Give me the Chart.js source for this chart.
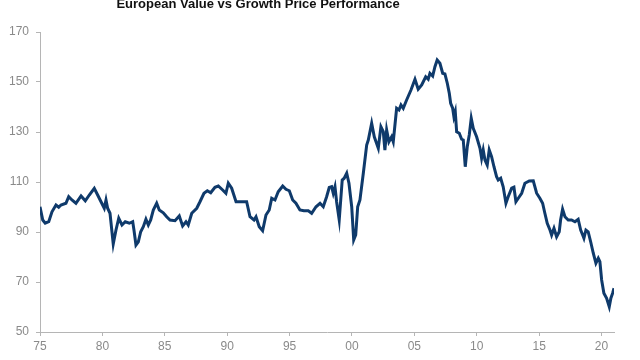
<!DOCTYPE html>
<html>
<head>
<meta charset="utf-8">
<script src="https://cdn.jsdelivr.net/npm/chart.js@4/dist/chart.umd.min.js"></script>
<style>
html,body{margin:0;padding:0;background:#fff;overflow:hidden;}
#wrap{width:640px;height:360px;position:relative;}
</style>
</head>
<body>
<div id="wrap"><canvas id="c" width="640" height="360"></canvas></div>
<script>
const TITLE = 'European Value vs Growth Price Performance';
const yTickValues = [50, 70, 90, 110, 130, 150, 170];
const xTickYears = [1975, 1980, 1985, 1990, 1995, 2000, 2005, 2010, 2015, 2020];
const xTickLabels = ['75', '80', '85', '90', '95', '00', '05', '10', '15', '20'];

const years = [
1975.00,1975.22,1975.42,1975.70,1975.96,1976.28,1976.50,1976.68,1977.08,1977.30,1977.56,1977.88,
1978.29,1978.63,1978.95,1979.35,1979.62,1979.89,1980.15,1980.29,1980.42,1980.61,1980.87,1981.09,
1981.31,1981.57,1981.83,1982.16,1982.43,1982.53,1982.69,1982.88,1983.07,1983.28,1983.49,1983.68,
1983.87,1984.08,1984.35,1984.56,1984.88,1985.15,1985.42,1985.82,1986.16,1986.43,1986.70,1986.88,
1987.16,1987.56,1987.82,1988.14,1988.41,1988.68,1989.02,1989.29,1989.64,1989.90,1990.09,1990.36,
1990.71,1991.16,1991.56,1991.83,1992.15,1992.31,1992.57,1992.84,1993.11,1993.37,1993.57,1993.83,
1994.09,1994.45,1994.71,1994.98,1995.25,1995.51,1995.83,1996.15,1996.50,1996.77,1997.12,1997.44,
1997.70,1997.97,1998.18,1998.37,1998.50,1998.64,1998.77,1998.98,1999.22,1999.38,1999.58,1999.76,
1999.98,2000.14,2000.30,2000.46,2000.64,2000.91,2001.18,2001.31,2001.58,2001.79,2002.11,2002.32,
2002.51,2002.64,2002.78,2002.96,2003.18,2003.31,2003.58,2003.77,2003.93,2004.11,2004.38,2004.73,
2005.05,2005.31,2005.59,2005.91,2006.11,2006.25,2006.47,2006.65,2006.83,2007.05,2007.27,2007.45,
2007.64,2007.80,2007.91,2008.07,2008.17,2008.28,2008.39,2008.60,2008.79,2008.92,2009.08,2009.24,
2009.40,2009.56,2009.72,2009.99,2010.26,2010.39,2010.52,2010.66,2010.84,2011.00,2011.19,2011.38,
2011.59,2011.72,2011.92,2012.12,2012.34,2012.52,2012.80,2012.98,2013.14,2013.33,2013.60,2013.86,
2014.21,2014.53,2014.80,2015.06,2015.28,2015.46,2015.65,2015.87,2016.00,2016.19,2016.40,2016.61,
2016.72,2016.88,2017.07,2017.33,2017.60,2017.87,2018.13,2018.33,2018.49,2018.59,2018.75,2018.93,
2019.13,2019.34,2019.55,2019.74,2019.87,2020.01,2020.19,2020.41,2020.62,2020.75,2020.89,2021.00
];
const values = [
100.1,94.8,93.5,94.1,98.1,100.8,99.9,100.8,101.5,104.1,102.8,101.5,
104.4,102.5,104.8,107.5,104.8,102.1,99.5,102.8,99.5,97.5,85.2,90.8,
95.5,92.8,94.1,93.5,94.1,90.8,84.8,86.1,90.1,92.1,95.1,92.8,
94.8,98.8,101.5,98.8,97.7,96.1,94.8,94.5,96.4,92.4,94.1,92.8,
97.5,99.5,102.1,105.5,106.5,105.7,107.9,108.4,106.8,105.5,109.5,107.5,
102.1,102.1,102.1,96.1,94.8,96.1,92.1,90.5,96.8,98.8,103.5,102.8,
106.1,108.4,107.1,106.5,102.8,101.5,98.8,98.5,98.5,97.5,100.1,101.5,
100.1,104.1,107.8,108.1,105.5,108.1,102.1,94.8,110.8,111.5,113.5,109.5,
100.1,86.8,88.8,100.1,102.8,113.5,124.8,126.8,133.5,128.1,123.5,132.1,
130.1,122.8,130.8,126.1,128.1,126.1,139.5,138.8,140.8,139.5,142.8,146.8,
151.1,147.1,148.8,152.1,151.1,153.5,152.4,156.1,158.8,157.5,153.5,153.2,
149.5,145.5,141.5,139.5,136.1,138.1,130.1,129.5,127.1,126.8,116.1,124.1,
128.8,135.5,131.5,128.1,123.5,119.5,122.8,118.8,116.8,122.8,120.1,116.1,
112.1,110.8,111.5,108.1,101.5,104.1,107.5,107.9,102.1,103.5,105.5,109.5,
110.4,110.5,105.5,103.5,101.5,97.5,93.5,90.8,88.8,91.5,88.1,90.1,
94.8,99.1,96.1,94.8,94.8,94.1,95.1,90.8,88.8,87.5,90.8,90.1,
86.1,81.5,77.5,79.5,78.1,70.8,65.5,63.5,60.1,63.5,65.5,67.5
];

const points = years.map((yr, i) => ({x: yr, y: values[i]}));

const titlePlugin = {
  id: 'cutTitle',
  afterDraw(chart) {
    const ctx = chart.ctx;
    ctx.save();
    ctx.font = 'bold 13px "Liberation Sans", Arial, sans-serif';
    ctx.fillStyle = '#111111';
    ctx.textAlign = 'center';
    ctx.textBaseline = 'alphabetic';
    ctx.fillText(TITLE, 258, 7.5);
    ctx.restore();
  }
};

new Chart(document.getElementById('c'), {
  type: 'line',
  data: {
    datasets: [{
      data: points,
      borderColor: '#0f3a6b',
      borderWidth: 3,
      pointRadius: 0,
      tension: 0,
      fill: false
    }]
  },
  options: {
    responsive: false,
    animation: false,
    events: [],
    layout: {padding: {top: 32, right: 26, left: 0, bottom: 0}},
    plugins: {legend: {display: false}, tooltip: {enabled: false}, title: {display: false}},
    scales: {
      x: {
        type: 'linear',
        min: 1975,
        max: 2021,
        afterFit(s) { s.height = 28; },
        afterBuildTicks(s) { s.ticks = xTickYears.map(v => ({value: v})); },
        ticks: {
          autoSkip: false,
          maxRotation: 0,
          padding: 3,
          color: '#8a8a8a',
          font: {family: '"Liberation Sans", Arial, sans-serif', size: 12},
          callback(v) { const i = xTickYears.indexOf(v); return i >= 0 ? xTickLabels[i] : ''; }
        },
        grid: {drawOnChartArea: false, drawTicks: true, tickLength: 4, color: '#b5b5b5'},
        border: {color: '#b5b5b5', width: 1}
      },
      y: {
        min: 50,
        max: 170,
        afterFit(s) { s.width = 40; },
        afterBuildTicks(s) { s.ticks = yTickValues.map(v => ({value: v})); },
        ticks: {
          padding: 7,
          color: '#8a8a8a',
          font: {family: '"Liberation Sans", Arial, sans-serif', size: 12},
          callback(v) { return String(v); }
        },
        grid: {drawOnChartArea: false, drawTicks: true, tickLength: 4, color: '#b5b5b5'},
        border: {color: '#b5b5b5', width: 1}
      }
    }
  },
  plugins: [titlePlugin]
});
</script>
</body>
</html>
